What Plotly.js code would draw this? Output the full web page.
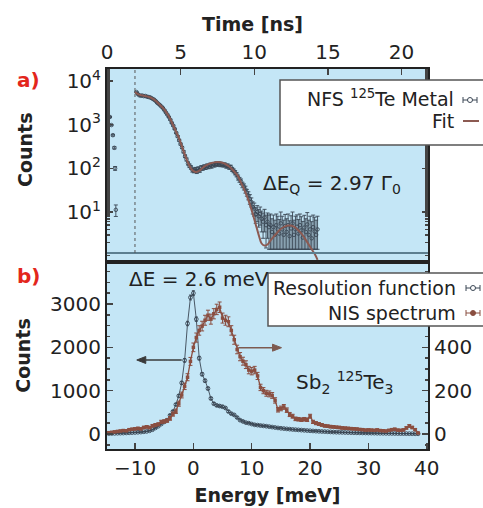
<!DOCTYPE html>
<html>
<head>
<meta charset="utf-8">
<script src="https://cdn.plot.ly/plotly-3.0.1.min.js"></script>
<style>html,body{margin:0;padding:0;background:#fff;}#chart{width:483px;height:508px;}</style>
</head>
<body>
<div id="chart"></div>
<script>
// ---------------- Panel a) NFS time spectrum ----------------
const nfsTime = [0.2,0.3,0.4,0.5,0.55,0.6,
  2.0,2.1,2.2,2.3,2.4,2.5,2.6,2.7,2.8,2.9,
  3.0,3.1,3.2,3.3,3.4,3.5,3.6,3.7,3.8,3.9,
  4.0,4.1,4.2,4.3,4.4,4.5,4.6,4.7,4.8,4.9,
  5.0,5.1,5.2,5.3,5.4,5.5,5.6,5.7,5.8,5.9,
  6.0,6.1,6.2,6.3,6.4,6.5,6.6,6.7,6.8,6.9,
  7.0,7.1,7.2,7.3,7.4,7.5,7.6,7.7,7.8,7.9,
  8.0,8.1,8.2,8.3,8.4,8.5,8.6,8.7,8.8,8.9,
  9.0,9.1,9.2,9.3,9.4,9.5,9.6,9.7,9.8,9.9,
  10.0,10.1,10.2,10.3,10.4,10.5,10.6,10.7,10.8,10.9,
  11.0,11.1,11.2,11.3,11.4,11.5,11.6,11.7,11.8,11.9,
  12.0,12.1,12.2,12.3,12.4,12.5,12.6,12.7,12.8,12.9,
  13.0,13.1,13.2,13.3,13.4,13.5,13.6,13.7,13.8,13.9,
  14.0,14.1,14.2,14.3];
const nfsCounts = [1500,980,575,295,100,11.2,
  5600,5000,4700,4600,4650,4500,4550,4400,4300,4250,
  4100,3900,3750,3500,3200,3000,2800,2600,2400,2150,
  1900,1700,1500,1300,1100,950,800,650,540,440,
  360,300,240,190,160,130,115,105,92,88,
  95,85,98,90,105,100,110,104,115,108,
  120,112,125,118,128,122,130,120,126,118,
  122,112,115,105,108,95,88,80,72,62,
  55,50,42,38,33,28,24,20,17,13,
  12,9,10,8,9,7,6,7.5,5,6,
  4.5,5,3.5,4.5,3,5,4,3.2,5.5,4,
  3,4.8,3.5,5,2.8,4.2,5.5,3,4,4.6,
  3.2,5,3.8,2.6,4.4,3.5,5.2,3,4,2.5,
  4.5,3.6,3,4];
const nfsErrPlus = [40,30,25,17,10,3.3,
  75,70,69,68,68,67,67,66,66,65,
  64,62,61,59,57,55,53,51,49,46,
  44,41,39,36,33,31,28,25,23,21,
  19,17,15,14,13,11,11,10,10,9,
  10,9,10,9,10,10,10,10,11,10,
  11,11,11,11,11,11,11,11,11,11,
  11,11,11,10,10,10,9,9,8,8,
  7,7,6,6,6,5,5,5,4,4,
  4,3.5,4,3.5,4,3.5,3.5,4,3.5,3.5,
  4,4,3.5,4,3.5,4,4,3.5,4.5,4,
  3.5,4,3.5,4,3.5,4,4.5,3.5,4,4,
  3.5,4,4,3.5,4,3.5,4.5,3.5,4,3.5,
  4,4,3.5,4];
const nfsErrMinus = [40,30,25,17,10,3.3,
  75,70,69,68,68,67,67,66,66,65,
  64,62,61,59,57,55,53,51,49,46,
  44,41,39,36,33,31,28,25,23,21,
  19,17,15,14,13,11,11,10,10,9,
  10,9,10,9,10,10,10,10,11,10,
  11,11,11,11,11,11,11,11,11,11,
  11,11,11,10,10,10,9,9,8,8,
  7,7,6,6,6,5,5,5,4,4,
  4,3.5,4,3.5,4,3.5,3.5,4,3.5,3.5,
  3.1,3.6,2.1,3.1,1.6,3.6,2.6,1.8,4.1,2.6,
  1.6,3.4,2.1,3.6,1.4,2.8,4.1,1.6,2.6,3.2,
  1.8,3.6,2.4,1.2,3.0,2.1,3.8,1.6,2.6,1.1,
  3.1,2.2,1.6,2.6];

const fitTime = [1.9,2.1,2.3,2.5,2.7,2.9,3.1,3.3,3.5,3.7,3.9,
  4.1,4.3,4.5,4.7,4.9,5.1,5.3,5.5,5.7,5.9,
  6.1,6.3,6.5,6.7,6.9,7.1,7.3,7.5,7.7,7.9,
  8.1,8.3,8.5,8.7,8.9,9.1,9.3,9.5,9.7,9.9,
  10.1,10.3,10.5,10.7,10.9,11.1,11.3,11.5,11.7,11.9,
  12.1,12.3,12.5,12.7,12.9,13.1,13.3,13.5,13.7,13.9,
  14.1,14.3];
const fitCounts = [5600,5000,4750,4600,4450,4250,3950,3550,3050,2600,2200,
  1750,1350,950,680,480,310,200,135,100,85,
  83,90,103,115,125,132,137,140,138,132,
  122,110,95,80,66,47,34,23,15,9,
  5.2,3,1.9,1.7,1.8,2.2,2.7,3.2,3.8,4.3,
  4.7,4.9,4.9,4.6,4.1,3.5,2.9,2.3,1.8,1.4,
  1.1,0.8];

const logTickVals = [10,100,1000,10000];
const logTickText = ['10<sup>1</sup>','10<sup>2</sup>','10<sup>3</sup>','10<sup>4</sup>'];

// ---------------- Panel b) NIS ----------------
const energy = [-14.5,-14,-13.5,-13,-12.5,-12,-11.5,-11,-10.5,-10,
  -9.5,-9,-8.5,-8,-7.5,-7,-6.5,-6,-5.5,-5,
  -4.5,-4,-3.5,-3,-2.5,-2,-1.5,-1,-0.5,0,
  0.5,1,1.5,2,2.5,3,3.5,4,4.5,5,
  5.5,6,6.5,7,7.5,8,8.5,9,9.5,10,
  10.5,11,11.5,12,12.5,13,13.5,14,14.5,15,
  15.5,16,16.5,17,17.5,18,18.5,19,19.5,20,
  20.5,21,21.5,22,22.5,23,23.5,24,24.5,25,
  25.5,26,26.5,27,27.5,28,28.5,29,29.5,30,
  30.5,31,31.5,32,32.5,33,33.5,34,34.5,35,
  35.5,36,36.5,37,37.5,38,38.5];
const resolution = [10,12,15,18,20,22,25,28,32,36,
  40,45,52,60,75,100,140,180,230,280,
  320,430,520,680,880,1180,1700,2550,3150,3250,
  2650,1750,1380,1230,1050,820,700,660,645,630,
  600,520,470,440,380,320,290,262,250,230,
  212,205,195,188,180,170,160,150,140,132,
  125,118,112,105,100,95,90,85,80,75,
  70,66,62,58,55,52,48,45,42,40,
  38,36,34,32,30,28,27,25,24,22,
  21,20,18,17,16,15,14,13,12,11,
  10,10,9,8,7,6,5];
const nis = [6,8,10,12,14,16,15,20,22,24,
  26,24,30,33,30,38,42,45,56,58,
  62,72,92,105,140,180,220,262,335,400,
  445,478,498,525,548,530,555,575,585,535,
  525,518,478,435,390,357,336,320,295,290,
  295,268,215,200,188,185,178,155,112,118,
  125,110,90,82,70,68,66,68,66,82,
  56,50,46,42,38,36,34,33,31,30,
  28,27,26,25,24,23,21,20,18,19,
  18,17,19,16,15,14,17,20,22,18,
  17,19,28,37,30,20,5];

// ---------------- styling ----------------
const BG = '#c4e6f6';
const INK = '#222';
const DARK = '#3a4654';
const BROWN = '#8a4e40';
const FITC = '#8c5a52';
const FONT = 'DejaVu Sans';
const W = 483, H = 508, ML = 107, MR = 55, MT = 69, MB = 59;
const PW = W - ML - MR, PH = H - MT - MB;
const X = px => (px - ML) / PW;          // pixel -> paper
const Y = py => (H - MB - py) / PH;
const X2RANGE = [-14.8, 40.2], Y2RANGE = [-346, 3969];
const Y2TOP = 262;

const traces = [
  {x: nfsTime, y: nfsCounts, xaxis: 'x', yaxis: 'y', type: 'scatter', mode: 'markers',
   name: 'NFS 125Te Metal',
   marker: {symbol: 'circle-open', size: 3.5, color: DARK, line: {width: 0.9, color: DARK}},
   error_y: {type: 'data', array: nfsErrPlus, arrayminus: nfsErrMinus, symmetric: false,
             color: DARK, thickness: 0.9, width: 2}},
  {x: fitTime, y: fitCounts, xaxis: 'x', yaxis: 'y', type: 'scatter', mode: 'lines',
   name: 'Fit', line: {color: FITC, width: 2, shape: 'spline'}},
  {x: energy, y: resolution, xaxis: 'x2', yaxis: 'y2', type: 'scatter', mode: 'lines+markers',
   name: 'Resolution function',
   line: {color: DARK, width: 0.9},
   marker: {symbol: 'circle-open', size: 3.8, color: DARK, line: {width: 0.9, color: DARK}},
   error_y: {type: 'sqrt', color: DARK, thickness: 0.9, width: 1.5}},
  {x: energy, y: nis, xaxis: 'x2', yaxis: 'y3', type: 'scatter', mode: 'lines+markers',
   name: 'NIS spectrum',
   line: {color: BROWN, width: 1.3},
   marker: {symbol: 'square', size: 3.5, color: BROWN},
   error_y: {type: 'sqrt', color: BROWN, thickness: 1, width: 2}}
];

const tickFont = {family: FONT, size: 20, color: INK};
const titleFont = {family: FONT, size: 19, color: INK};
const common = {showline: true, linewidth: 2, linecolor: INK, ticks: 'inside', ticklen: 6,
  tickwidth: 1.5, tickcolor: '#444', showgrid: false, zeroline: false, tickfont: tickFont};

const shapes = [
  // gray base line of panel a
  {type: 'line', xref: 'paper', yref: 'paper', x0: 0, x1: 1, y0: Y(253), y1: Y(253),
   line: {color: '#5d7f90', width: 2}},
  // dotted start line
  {type: 'line', xref: 'x', yref: 'paper', x0: 1.9, x1: 1.9, y0: Y(253), y1: 1,
   line: {color: '#555', width: 1, dash: 'dot'}},
  // legend boxes
  {type: 'rect', xref: 'paper', yref: 'paper', x0: X(280), x1: X(500), y0: Y(145), y1: Y(80),
   fillcolor: 'white', line: {color: '#555', width: 1.5}, layer: 'above'},
  {type: 'rect', xref: 'paper', yref: 'paper', x0: X(268), x1: X(500), y0: Y(326), y1: Y(273),
   fillcolor: 'white', line: {color: '#555', width: 1.5}, layer: 'above'}
];
function errSymbol(cx, cy, color, filled) {
  const L = {color: color, width: 1};
  shapes.push({type: 'line', xref: 'paper', yref: 'paper', x0: X(cx - 7), x1: X(cx + 7), y0: Y(cy), y1: Y(cy), line: L, layer: 'above'});
  shapes.push({type: 'line', xref: 'paper', yref: 'paper', x0: X(cx - 7), x1: X(cx - 7), y0: Y(cy - 3), y1: Y(cy + 3), line: L, layer: 'above'});
  shapes.push({type: 'line', xref: 'paper', yref: 'paper', x0: X(cx + 7), x1: X(cx + 7), y0: Y(cy - 3), y1: Y(cy + 3), line: L, layer: 'above'});
  shapes.push({type: 'circle', xref: 'paper', yref: 'paper', x0: X(cx - 2.5), x1: X(cx + 2.5), y0: Y(cy + 2.5), y1: Y(cy - 2.5),
    fillcolor: filled ? color : 'white', line: L, layer: 'above'});
}
errSymbol(470, 100, DARK, false);
shapes.push({type: 'line', xref: 'paper', yref: 'paper', x0: X(463), x1: X(479), y0: Y(121), y1: Y(121), line: {color: FITC, width: 2}, layer: 'above'});
errSymbol(473, 288, DARK, false);
errSymbol(473, 313, BROWN, true);

// direction arrows (line + filled head) in bottom-panel data coordinates
const ex = (449 - Y2TOP) / (Y2RANGE[1] - Y2RANGE[0]);   // px per count
const dxPx = (X2RANGE[1] - X2RANGE[0]) / PW;           // energy per px
function arrow(xTail, xTip, yv, color) {
  const dir = Math.sign(xTip - xTail);
  const headLen = 9 * dxPx, half = 3.5 / ex;
  const base = xTip - dir * headLen;
  shapes.push({type: 'line', xref: 'x2', yref: 'y2', x0: xTail, x1: base, y0: yv, y1: yv,
    line: {color: color, width: 1.5}});
  shapes.push({type: 'path', xref: 'x2', yref: 'y2',
    path: `M ${xTip},${yv} L ${base},${yv + half} L ${base},${yv - half} Z`,
    fillcolor: color, line: {color: color, width: 1}});
}
arrow(-2.0, -9.7, 1708, '#3a3a3a');
arrow(7.7, 15.1, 1992, '#7d5a50');

const ann = (text, px, py, xanchor, opts) => Object.assign({text: text, xref: 'paper', yref: 'paper',
  x: X(px), y: Y(py), xanchor: xanchor, yanchor: 'middle', showarrow: false,
  font: {family: FONT, size: 20, color: INK}}, opts || {});

const annotations = [
  ann('<b>Time [ns]</b>', 252, 24, 'center', {font: titleFont}),
  ann('<b>Counts</b>', 25, 150, 'center', {font: titleFont, textangle: -90}),
  ann('<b>a)</b>', 28, 80, 'center', {font: {family: FONT, size: 20, color: '#e3261c'}}),
  ann('<b>b)</b>', 28, 276, 'center', {font: {family: FONT, size: 20, color: '#e3261c'}}),
  ann('ΔE<sub>Q</sub> = 2.97 Γ<sub>0</sub>', 261, 184, 'left'),
  ann('ΔE = 2.6 meV', 127, 279, 'left'),
  ann('Sb<sub>2</sub> <sup>125</sup>Te<sub>3</sub>', 294, 382, 'left'),
  ann('NFS <sup>125</sup>Te Metal', 456, 98, 'right', {font: {family: FONT, size: 19, color: INK}}),
  ann('Fit', 456, 121, 'right', {font: {family: FONT, size: 19, color: INK}}),
  ann('Resolution function', 458, 288, 'right', {font: {family: FONT, size: 19, color: INK}}),
  ann('NIS spectrum', 458, 313, 'right', {font: {family: FONT, size: 19, color: INK}})
];

const layout = {
  width: W, height: H,
  margin: {l: ML, r: MR, t: MT, b: MB, pad: 0},
  paper_bgcolor: 'white', plot_bgcolor: BG,
  font: {family: FONT, size: 20, color: INK},
  showlegend: false,
  xaxis: Object.assign({}, common, {domain: [0, 1], anchor: 'y', side: 'top', mirror: true,
    range: [0, 21.8], tickvals: [0, 5, 10, 15, 20]}),
  yaxis: Object.assign({}, common, {domain: [Y(Y2TOP), 1], anchor: 'x', type: 'log', mirror: 'ticks',
    range: [-0.145, 4.275], tickvals: logTickVals, ticktext: logTickText,
    minor: {ticks: 'inside', ticklen: 3, tickcolor: '#444', showgrid: false}}),
  xaxis2: Object.assign({}, common, {domain: [0, 1], anchor: 'y2', side: 'bottom', mirror: true,
    range: X2RANGE, tickvals: [-10, 0, 10, 20, 30, 40],
    title: {text: '<b>Energy [meV]</b>', font: titleFont, standoff: 10}}),
  yaxis2: Object.assign({}, common, {domain: [0, Y(Y2TOP)], anchor: 'x2',
    range: Y2RANGE, tickvals: [0, 1000, 2000, 3000],
    minor: {ticks: 'inside', ticklen: 3, tickcolor: '#444', dtick: 250, showgrid: false},
    title: {text: '<b>Counts</b>', font: titleFont, standoff: 14}}),
  yaxis3: Object.assign({}, common, {overlaying: 'y2', anchor: 'x2', side: 'right',
    range: [-69.2, 793.8], tickvals: [0, 200, 400],
    minor: {ticks: 'inside', ticklen: 3, tickcolor: '#444', dtick: 50, showgrid: false}}),
  shapes: shapes,
  annotations: annotations
};

Plotly.newPlot('chart', traces, layout, {displayModeBar: false, staticPlot: true});
</script>
</body>
</html>
